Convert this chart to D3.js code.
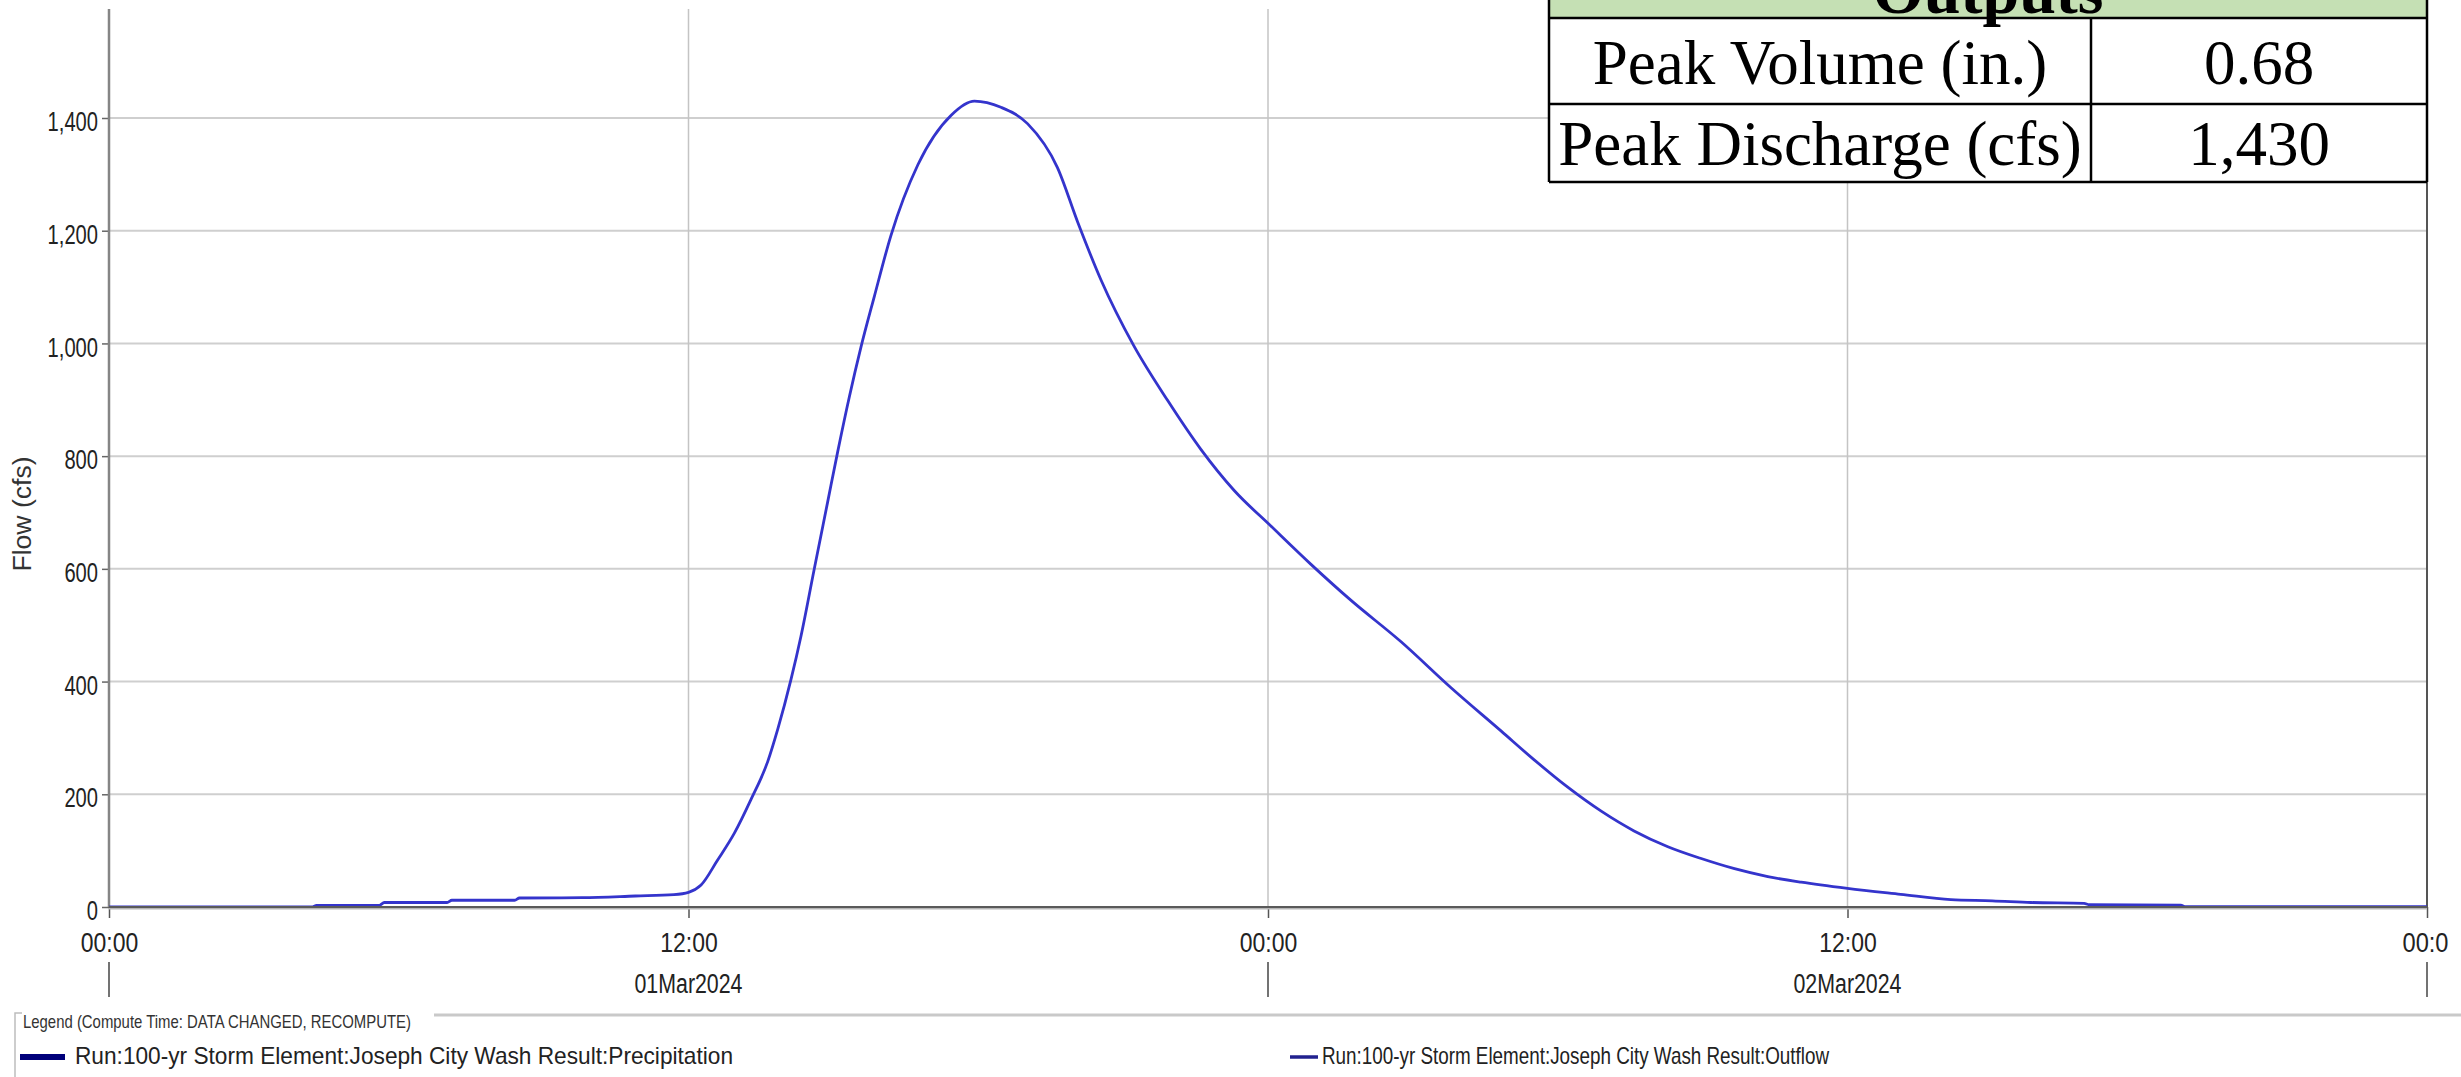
<!DOCTYPE html>
<html><head><meta charset="utf-8">
<script src="https://cdn.jsdelivr.net/npm/d3@7/dist/d3.min.js"></script>
<style>html,body{margin:0;padding:0;background:#fff;overflow:hidden}</style>
</head><body><svg id="c" width="2461" height="1077"></svg>
<script>
// ---- data (hours since 01Mar2024 00:00, flow in cfs) ----
const hours = [0,4.2,4.3,5.6,5.7,7.0,7.1,8.4,8.5,9.8,10.9,11.7,12.0,12.26,12.6,12.95,13.29,13.64,13.85,14.12,14.33,14.6,14.88,15.09,15.33,15.57,15.85,16.19,16.75,17.44,17.92,18.47,19.02,19.64,20.06,20.54,21.22,21.92,22.61,23.3,24.06,24.89,25.72,26.75,27.79,28.83,29.5,30.2,30.9,31.58,32.28,32.97,33.66,34.35,35.04,36.0,37.1,38.14,39.0,39.8,40.9,41.0,42.9,43.0,48];
const outflow = [0,0,3,3,8,8,12,12,16,16.5,19.5,22,26,39,83,131,190,258,316,403,481,598,718,808,905,993,1084,1191,1317,1405,1430,1419,1390,1312,1215,1113,996,899,812,739,676,608,544,471,389,312,262,213,170,135,107,86,68,54,44,33,22.5,13,11,8,6.5,4,3.5,0.5,0.5];
const yTicks = [0,200,400,600,800,1000,1200,1400];
const xTickHours = [0,12,24,36,48];
const xTickLabels = ["00:00","12:00","00:00","12:00","00:0"];
const dayLineHours = [0,24,48];
const dateLabelHours = [12,36];
const dateLabels = ["01Mar2024","02Mar2024"];
const yTitle = "Flow (cfs)";
const legendTitle = "Legend (Compute Time: DATA CHANGED, RECOMPUTE)";
const seriesNames = ["Run:100-yr Storm Element:Joseph City Wash Result:Precipitation",
                     "Run:100-yr Storm Element:Joseph City Wash Result:Outflow"];
const tableHeader = "Outputs";
const tableLabels = ["Peak Volume (in.)","Peak Discharge (cfs)"];
const tableValues = ["0.68","1,430"];

const svg = d3.select("#c");
const sans = "'Liberation Sans', Arial, sans-serif";
const serif = "'Liberation Serif', 'Times New Roman', serif";

const x = d3.scaleLinear().domain([0,48]).range([109,2427]);
const y = d3.scaleLinear().domain([0,1400]).range([907,118]);
const plotTop = 9;

// grid
const grid = svg.append("g");
grid.selectAll("line.h").data(yTicks.filter(d=>d>0)).enter().append("line")
  .attr("x1",x(0)).attr("x2",x(48)).attr("y1",d=>y(d)).attr("y2",d=>y(d))
  .attr("stroke","#cfcfcf").attr("stroke-width",2);
grid.selectAll("line.v").data(xTickHours.filter(d=>d>0&&d<48)).enter().append("line")
  .attr("x1",d=>x(d)).attr("x2",d=>x(d)).attr("y1",plotTop).attr("y2",y(0))
  .attr("stroke","#c4c4c4").attr("stroke-width",1.5);

// right border
svg.append("line").attr("x1",x(48)).attr("x2",x(48)).attr("y1",plotTop).attr("y2",y(0))
  .attr("stroke","#555").attr("stroke-width",2);

// y axis
const yAxis = svg.append("g").attr("transform",`translate(${x(0)},0)`)
  .call(d3.axisLeft(y).tickValues(yTicks).tickSize(7).tickFormat(d3.format(",")));
yAxis.select(".domain").remove();
yAxis.selectAll(".tick line").attr("stroke","#666").attr("stroke-width",1.5);
const ks = 0.72;
yAxis.selectAll(".tick text").attr("font-family",sans).attr("font-size",28).attr("fill","#222")
  .attr("x",-11/ks).attr("dy","0.45em").attr("transform",`scale(${ks},1)`);
svg.append("line").attr("x1",x(0)).attr("x2",x(0)).attr("y1",plotTop).attr("y2",y(0))
  .attr("stroke","#858585").attr("stroke-width",2.5);

// x axis
const xAxis = svg.append("g").attr("transform",`translate(0,${y(0)})`)
  .call(d3.axisBottom(x).tickValues(xTickHours).tickSize(11).tickFormat((d,i)=>xTickLabels[i]));
xAxis.select(".domain").remove();
xAxis.selectAll(".tick line").attr("stroke","#555").attr("stroke-width",1.5);
xAxis.selectAll(".tick text").attr("font-family",sans).attr("font-size",27).attr("fill","#222")
  .attr("y",45).attr("dy",0)
  .attr("textLength",(d,i)=>xTickLabels[i].length*11.5).attr("lengthAdjust","spacingAndGlyphs")
  .attr("text-anchor",(d,i)=>i===xTickLabels.length-1?"start":"middle")
  .attr("x",(d,i)=>i===xTickLabels.length-1?-25:0);
svg.selectAll("text.date").data(dateLabelHours).enter().append("text")
  .attr("x",d=>x(d)).attr("y",993).attr("text-anchor","middle")
  .attr("font-family",sans).attr("font-size",27).attr("fill","#222")
  .attr("textLength",108).attr("lengthAdjust","spacingAndGlyphs")
  .text((d,i)=>dateLabels[i]);
svg.selectAll("line.day").data(dayLineHours).enter().append("line")
  .attr("x1",d=>x(d)).attr("x2",d=>x(d)).attr("y1",962).attr("y2",997)
  .attr("stroke","#444").attr("stroke-width",1.5);

// y title
svg.append("text").attr("transform",`translate(31,514) rotate(-90)`)
  .attr("text-anchor","middle").attr("font-family",sans).attr("font-size",25).attr("fill","#333")
  .attr("textLength",115).attr("lengthAdjust","spacingAndGlyphs").text(yTitle);

// outflow line
const pts = hours.map((h,i)=>({h:h,v:outflow[i]}));
svg.append("path").datum(pts)
  .attr("d",d3.line().x(d=>x(d.h)).y(d=>y(d.v)).curve(d3.curveMonotoneX))
  .attr("fill","none").attr("stroke","#3434cc").attr("stroke-width",2.8);

// x axis baseline (thick)
svg.append("line").attr("x1",x(0)).attr("x2",x(48)).attr("y1",y(0)+1.5).attr("y2",y(0)+1.5)
  .attr("stroke","#b5b5b5").attr("stroke-width",2);
svg.append("line").attr("x1",x(0)).attr("x2",x(48)).attr("y1",y(0)).attr("y2",y(0))
  .attr("stroke","#5a5a5a").attr("stroke-width",2);

// legend
svg.append("path").attr("d","M22,1013 H15 V1077").attr("fill","none").attr("stroke","#bdbdbd").attr("stroke-width",1.5);
svg.append("text").attr("x",23).attr("y",1028).attr("font-family",sans).attr("font-size",19).attr("fill","#333")
  .attr("textLength",388).attr("lengthAdjust","spacingAndGlyphs").text(legendTitle);
svg.append("line").attr("x1",434).attr("x2",2461).attr("y1",1015).attr("y2",1015)
  .attr("stroke","#c9c9c9").attr("stroke-width",3);
svg.append("rect").attr("x",20).attr("y",1054).attr("width",45).attr("height",6).attr("fill","#00007a");
svg.append("text").attr("x",75).attr("y",1064).attr("font-family",sans).attr("font-size",24).attr("fill","#222")
  .attr("textLength",658).attr("lengthAdjust","spacingAndGlyphs").text(seriesNames[0]);
svg.append("line").attr("x1",1290).attr("x2",1318).attr("y1",1057).attr("y2",1057)
  .attr("stroke","#22228f").attr("stroke-width",3.5);
svg.append("text").attr("x",1322).attr("y",1064).attr("font-family",sans).attr("font-size",24).attr("fill","#222")
  .attr("textLength",507).attr("lengthAdjust","spacingAndGlyphs").text(seriesNames[1]);

// outputs table
const tL=1549, tR=2427, tM=2091, rows=[0,18,104,182];
const tg = svg.append("g");
tg.append("rect").attr("x",tL).attr("y",0).attr("width",tR-tL).attr("height",rows[3]).attr("fill","#fff");
tg.append("rect").attr("x",tL).attr("y",0).attr("width",tR-tL).attr("height",rows[1]).attr("fill","#c5e0b4");
tg.append("text").attr("x",(tL+tR)/2).attr("y",13).attr("text-anchor","middle")
  .attr("font-family",serif).attr("font-weight","bold").attr("font-size",66).attr("fill","#000").text(tableHeader);
tg.selectAll("text.lab").data(tableLabels).enter().append("text")
  .attr("x",(tL+tM)/2).attr("y",(d,i)=>[84,165][i]).attr("text-anchor","middle")
  .attr("font-family",serif).attr("font-size",63).attr("fill","#000").text(d=>d);
tg.selectAll("text.val").data(tableValues).enter().append("text")
  .attr("x",(tM+tR)/2).attr("y",(d,i)=>[84,165][i]).attr("text-anchor","middle")
  .attr("font-family",serif).attr("font-size",63).attr("fill","#000").text(d=>d);
tg.selectAll("line.r").data(rows.slice(1)).enter().append("line")
  .attr("x1",tL).attr("x2",tR).attr("y1",d=>d).attr("y2",d=>d).attr("stroke","#000").attr("stroke-width",2.5);
tg.append("line").attr("x1",tM).attr("x2",tM).attr("y1",rows[1]).attr("y2",rows[3]).attr("stroke","#000").attr("stroke-width",2.5);
tg.append("line").attr("x1",tL).attr("x2",tL).attr("y1",0).attr("y2",rows[3]).attr("stroke","#000").attr("stroke-width",2.5);
tg.append("line").attr("x1",tR).attr("x2",tR).attr("y1",0).attr("y2",rows[3]).attr("stroke","#000").attr("stroke-width",2.5);
</script></body></html>
